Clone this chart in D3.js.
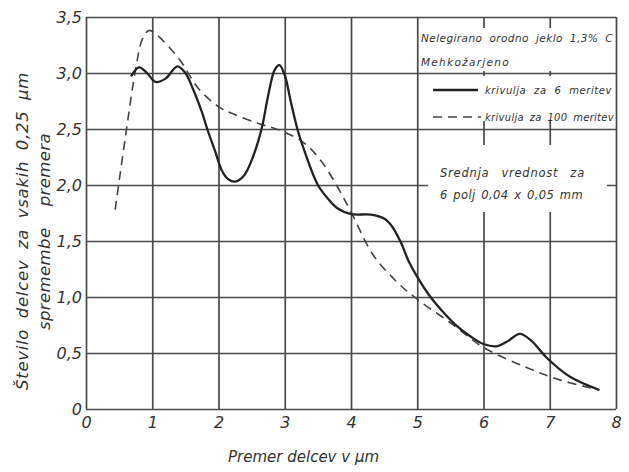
<!DOCTYPE html>
<html>
<head>
<meta charset="utf-8">
<script src="https://cdn.jsdelivr.net/npm/d3@7.9.0/dist/d3.min.js"></script>
<style>
  body { margin: 0; background: #fff; }
  svg text { font-family: "DejaVu Sans", sans-serif; font-style: italic; fill: #333; }
</style>
</head>
<body>
<svg id="chart" width="629" height="472"></svg>
<script>
// values
const xTicks = [0, 1, 2, 3, 4, 5, 6, 7, 8];
const yTicks = [0, 0.5, 1, 1.5, 2, 2.5, 3, 3.5];
const yTickLabels = ['0', '0,5', '1,0', '1,5', '2,0', '2,5', '3,0', '3,5'];

// krivulja za 6 meritev (solid)
const sixX = [0.68, 0.8, 0.92, 1.05, 1.2, 1.38, 1.5, 1.62, 1.75, 1.83, 1.95, 2.05, 2.15, 2.25, 2.38, 2.5, 2.65, 2.75, 2.85, 2.92, 3.0, 3.1, 3.2, 3.3, 3.5, 3.65, 3.8, 4.0, 4.3, 4.5, 4.62, 4.75, 4.87, 5.0, 5.2, 5.4, 5.6, 5.8, 6.0, 6.2, 6.35, 6.55, 6.72, 6.95, 7.3, 7.75];
const sixY = [2.97, 3.05, 3.0, 2.92, 2.95, 3.06, 3.0, 2.85, 2.65, 2.5, 2.3, 2.13, 2.05, 2.03, 2.08, 2.22, 2.5, 2.8, 3.03, 3.07, 2.98, 2.72, 2.48, 2.3, 2.0, 1.88, 1.79, 1.74, 1.735, 1.7, 1.63, 1.49, 1.32, 1.18, 1.0, 0.86, 0.74, 0.65, 0.58, 0.56, 0.6, 0.67, 0.61, 0.46, 0.29, 0.17];

// krivulja za 100 meritev (dashed)
const hundredX = [0.44, 0.6, 0.74, 0.85, 0.95, 1.05, 1.4, 1.7, 2.0, 2.2, 2.6, 2.92, 3.26, 3.53, 3.78, 4.0, 4.33, 4.7, 5.0, 5.5, 6.0, 6.65, 7.15, 7.75];
const hundredY = [1.78, 2.45, 3.0, 3.3, 3.38, 3.35, 3.13, 2.86, 2.7, 2.64, 2.55, 2.49, 2.39, 2.23, 2.0, 1.76, 1.38, 1.13, 0.98, 0.77, 0.55, 0.37, 0.26, 0.17];

const svg = d3.select('#chart');
const x = d3.scaleLinear().domain([0, 8]).range([86, 616]);
const y = d3.scaleLinear().domain([0, 3.5]).range([409, 17]);
const gridColor = '#4a4a4a';

// grid via axes
const gx = svg.append('g')
  .attr('transform', `translate(0,${y(0)})`)
  .call(d3.axisBottom(x).tickValues(xTicks).tickSize(-(y(0) - y(3.5))).tickPadding(8).tickFormat(d3.format('d')));
const gy = svg.append('g')
  .attr('transform', `translate(${x(0)},0)`)
  .call(d3.axisLeft(y).tickValues(yTicks).tickSize(-(x(8) - x(0))).tickPadding(4).tickFormat((d, i) => yTickLabels[i]));

[gx, gy].forEach(g => {
  g.select('.domain').remove();
  g.selectAll('.tick line').attr('stroke', gridColor).attr('stroke-width', 1.7);
  g.selectAll('.tick text').style('font-size', '16px').attr('fill', '#333');
});
gy.selectAll('.tick text').attr('dy', '0.35em');

// white boxes behind the annotations
svg.append('rect').attr('x', x(5) + 2).attr('y', y(3.5) + 11).attr('width', x(8) - x(5) - 4).attr('height', y(3) - y(3.5) - 13).attr('fill', '#fff');
svg.append('rect').attr('x', x(5) + 2).attr('y', y(3) + 3).attr('width', x(8) - x(5) - 4).attr('height', y(2.5) - y(3) - 11).attr('fill', '#fff');
svg.append('rect').attr('x', x(5) + 11).attr('y', 145).attr('width', x(8) - x(5) - 20).attr('height', 67).attr('fill', '#fff');

// curves
const line = d3.line().x(d => x(d[0])).y(d => y(d[1])).curve(d3.curveCatmullRom.alpha(0.5));
const six = sixX.map((v, i) => [v, sixY[i]]);
const hundred = hundredX.map((v, i) => [v, hundredY[i]]);

svg.append('path').datum(hundred)
  .attr('d', line).attr('fill', 'none')
  .attr('stroke', '#444').attr('stroke-width', 1.6).attr('stroke-dasharray', '9,6');
svg.append('path').datum(six)
  .attr('d', line).attr('fill', 'none')
  .attr('stroke', '#222').attr('stroke-width', 2.3);

// spread a label (half letters, half word gaps) so it spans the same length as in the scan
function fit(sel, target, wordShare = 0.5) {
  const n = sel.node();
  const natural = n.getComputedTextLength();
  const extra = target - natural;
  if (extra <= 0) return sel;
  const chars = n.textContent.length;
  const gaps = (n.textContent.match(/ /g) || []).length;
  const share = gaps ? wordShare : 0;
  sel.style('letter-spacing', (extra * (1 - share) / chars) + 'px');
  if (gaps) sel.style('word-spacing', (extra * share / gaps) + 'px');
  return sel;
}

const note = (tx, ty, str, size, len) => fit(svg.append('text').attr('x', tx).attr('y', ty)
  .style('font-size', size + 'px').text(str), len);

note(421, 42, 'Nelegirano orodno jeklo 1,3% C', 10.5, 192);
note(421, 66, 'Mehkožarjeno', 10.5, 89);
svg.append('line').attr('x1', 433).attr('x2', 478).attr('y1', 90).attr('y2', 90)
  .attr('stroke', '#222').attr('stroke-width', 2.3);
svg.append('line').attr('x1', 433).attr('x2', 481).attr('y1', 117).attr('y2', 117)
  .attr('stroke', '#444').attr('stroke-width', 1.6).attr('stroke-dasharray', '9,6');
note(485, 94, 'krivulja za 6 meritev', 10, 127);
note(485, 121, 'krivulja za 100 meritev', 10, 129);
note(440, 177, 'Srednja vrednost za', 11.5, 145);
note(440, 199, '6 polj  0,04 x 0,05 mm', 11.5, 145);

// axis titles
fit(svg.append('text').attr('x', 228).attr('y', 462).style('font-size', '15px')
  .text('Premer delcev v μm'), 128);
fit(svg.append('text').attr('transform', 'translate(28,390) rotate(-90)')
  .style('font-size', '16.5px')
  .text('Število delcev za vsakih 0,25 μm'), 318);
fit(svg.append('text').attr('transform', 'translate(50,330) rotate(-90)')
  .style('font-size', '16.5px')
  .text('spremembe premera'), 197, 0.7);
</script>
</body>
</html>
